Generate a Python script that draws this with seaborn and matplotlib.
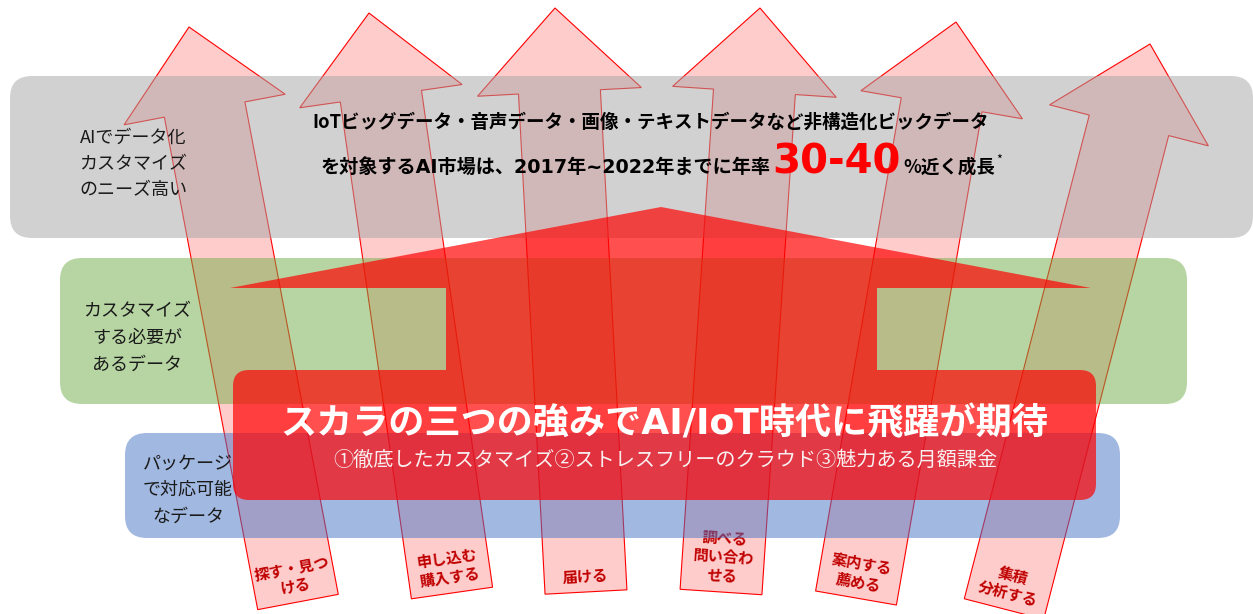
import numpy as np
import seaborn as sns
import matplotlib.pyplot as plt
from matplotlib.patches import FancyBboxPatch, Polygon

# Data: six customer-journey arrows (tip / base centre in pixel space)
step_labels = ['探す・見つ\nける', '申し込む\n購入する', '届ける', '調べる\n問い合わ\nせる', '案内する\n薦める', '集積\n分析する']
tip_x = [189, 369, 555, 760, 956, 1150]
tip_y = [27, 13, 8, 8, 22, 44]
base_x = [298, 452, 586, 721, 856, 1004]
base_y = [602, 593, 592, 592, 598, 609]

# Layers (gray / green / blue) and their labels
layer_labels = ['AIでデータ化\nカスタマイズ\nのニーズ高い', 'カスタマイズ\nする必要が\nあるデータ', 'パッケージ\nで対応可能\nなデータ']
layer_left = [10, 60, 125]
layer_right = [1253, 1187, 1120]
layer_top = [76, 258, 433]
layer_bottom = [238, 404, 538]
layer_colors = ['#a5a5a5', '#70ad47', '#4472c4']
layer_text_x = [133, 137, 188]
layer_text_y = [164, 338, 490]

header_line1 = 'IoTビッグデータ・音声データ・画像・テキストデータなど非構造化ビックデータ'
header_line2 = ['を対象するAI市場は、2017年~2022年までに年率', '30-40', '%近く成長']
title = 'スカラの三つの強みでAI/IoT時代に飛躍が期待'
subtitle = '①徹底したカスタマイズ②ストレスフリーのクラウド③魅力ある月額課金'

sns.set_theme(style='white')
plt.rcParams['font.family'] = ['Noto Sans CJK JP', 'DejaVu Sans']
latin_first = ['DejaVu Sans', 'Noto Sans CJK JP']

fig = plt.figure(figsize=(12.53, 6.14), dpi=100)
ax = fig.add_axes([0, 0, 1, 1])
ax.set_xlim(0, 1253)
ax.set_ylim(614, 0)
ax.axis('off')

# arrows
sw, hw, hl = 82, 164, 84
for i in range(len(step_labels)):
    t = np.array([tip_x[i], tip_y[i]], float)
    b = np.array([base_x[i], base_y[i]], float)
    d = (t - b) / np.linalg.norm(t - b)
    p = np.array([-d[1], d[0]])
    h = t - hl * d
    pts = [b + p * sw / 2, h + p * sw / 2, h + p * hw / 2, t,
           h - p * hw / 2, h - p * sw / 2, b - p * sw / 2]
    ax.add_patch(Polygon(pts, closed=True, facecolor=(1, 0, 0, 0.2),
                         edgecolor='red', lw=0.8, zorder=1))
    nlines = step_labels[i].count('\n') + 1
    c = b + d * (15 + 10 * (nlines - 1))
    rot = np.degrees(np.arctan2(-d[1], d[0])) - 90
    ax.text(c[0], c[1], step_labels[i], rotation=rot, rotation_mode='anchor',
            ha='center', va='center', fontsize=11, fontweight='bold',
            color='#c00000', linespacing=1.2, zorder=1.5)

# layer boxes
for i in range(3):
    w = layer_right[i] - layer_left[i]
    hgt = layer_bottom[i] - layer_top[i]
    ax.add_patch(FancyBboxPatch((layer_left[i], layer_top[i]), w, hgt,
                                boxstyle='round,pad=0,rounding_size=22',
                                facecolor=layer_colors[i], alpha=0.5,
                                edgecolor='none', zorder=2))
    ax.text(layer_text_x[i], layer_text_y[i], layer_labels[i], ha='center',
            va='center', fontsize=13, color='#1a1a1a', linespacing=1.6, zorder=3)

# house shape
house = [(230, 288), (661, 207), (1091, 288), (877, 288), (877, 370),
         (446, 370), (446, 288)]
ax.add_patch(Polygon(house, closed=True, facecolor=(1, 0, 0, 0.69),
                     edgecolor='none', zorder=4))

# red banner
ax.add_patch(FancyBboxPatch((233, 370), 863, 130,
                            boxstyle='round,pad=0,rounding_size=16',
                            facecolor=(1, 0, 0, 0.69), edgecolor='none', zorder=5))
ax.text(664, 423, title, ha='center', va='center', fontsize=26,
        fontweight='bold', color='white', family=latin_first, zorder=6)
ax.text(665, 460, subtitle, ha='center', va='center', fontsize=14.5,
        color='#f8f0f0', zorder=6)

# header text in the gray box
ax.text(651, 128, header_line1, ha='center', va='baseline', fontsize=13.3,
        fontweight='bold', color='black', zorder=6)
big = ax.text(836, 174, header_line2[1], ha='center', va='baseline',
              fontsize=29, fontweight='bold', color='#ff0000',
              family='DejaVu Sans', zorder=6)
fig.canvas.draw()
r = fig.canvas.get_renderer()
bb = big.get_window_extent(r).transformed(ax.transData.inverted())
x0, x1 = min(bb.x0, bb.x1), max(bb.x0, bb.x1)
ax.text(x0 - 1, 173, header_line2[0], ha='right', va='baseline', fontsize=13.8,
        fontweight='bold', color='black', family=latin_first, zorder=6)
rest = ax.text(x1 + 3, 173, header_line2[2], ha='left', va='baseline',
               fontsize=13.3, fontweight='bold', color='black', zorder=6)
fig.canvas.draw()
bb2 = rest.get_window_extent(r).transformed(ax.transData.inverted())
ax.text(max(bb2.x0, bb2.x1) + 1, 160, '*', ha='left', va='center', fontsize=9,
        color='black', zorder=6)

fig.savefig('out.png', dpi=100)
